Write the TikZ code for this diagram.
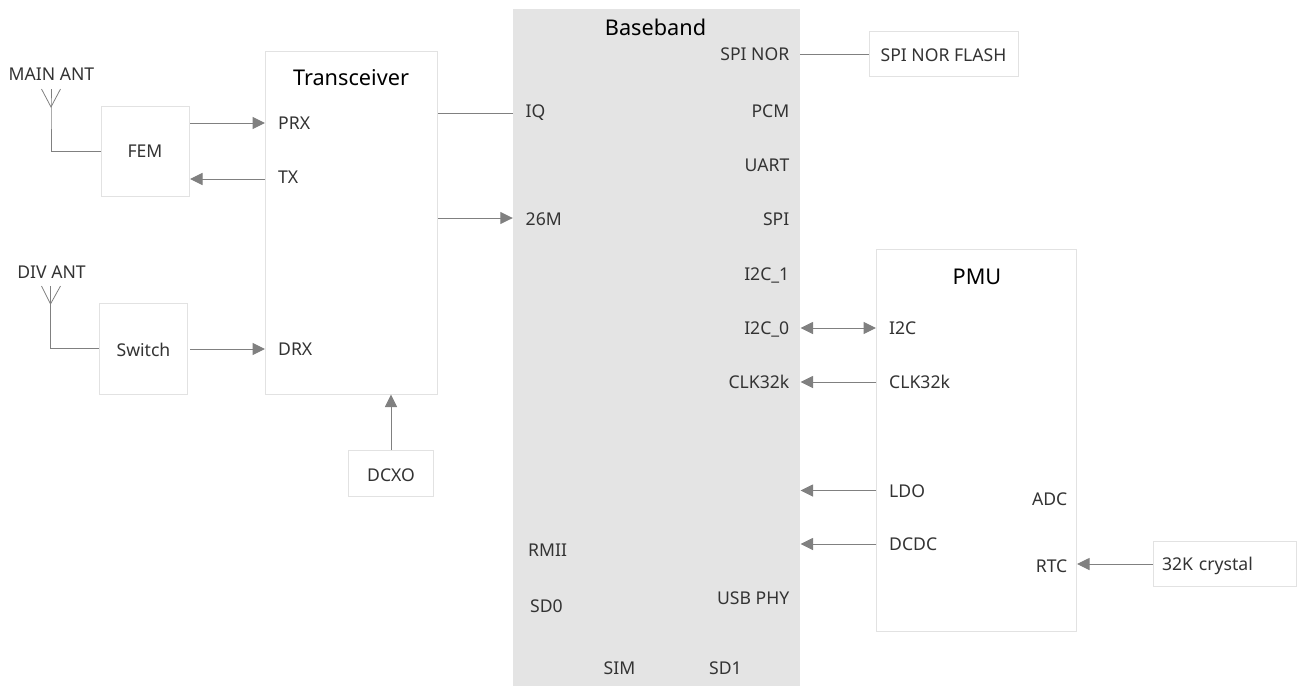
\documentclass[tikz,border=0pt]{standalone}
\usepackage{fontspec}
\setmainfont{Noto Sans}
\usetikzlibrary{arrows.meta}
\definecolor{boxline}{HTML}{E2E2E2}
\definecolor{bbfill}{HTML}{E4E4E4}
\definecolor{wire}{HTML}{808080}
\definecolor{txt}{HTML}{333333}
\tikzset{x=1pt,y=-1pt,
 blk/.style={draw=boxline,fill=white,line width=1pt,inner sep=0pt,font=\fontsize{17.6}{20}\selectfont,text=txt,text height=12.6pt,text depth=0pt},
 lowtext/.style={text height=15.6pt},
 bb/.style={fill=bbfill,inner sep=0pt},
 lbl/.style={font=\fontsize{17.6}{20}\selectfont,text=txt,inner sep=0pt,text height=12.6pt,text depth=0pt},
 lblL/.style={lbl,anchor=west},
 lblR/.style={lbl,anchor=east},
 ttl/.style={font=\fontsize{21.7}{25}\selectfont,text=black,inner sep=0pt,text height=15.5pt,text depth=0pt},
 wirel/.style={draw=wire,line width=1pt},
 arr/.style={wirel,-{Triangle[length=12.5pt,width=12pt]}},
 arrb/.style={wirel,{Triangle[length=12.5pt,width=12pt]}-{Triangle[length=12.5pt,width=12pt]}},
 ant/.style={draw=wire,line width=0.8pt}}
\begin{document}
\begin{tikzpicture}
\useasboundingbox (0,0) rectangle (1298,686);
% blocks
\node[bb,minimum width=287pt,minimum height=677pt] (bb) at (656.5,347.5) {};
\node[blk,minimum width=172pt,minimum height=343pt] (tr) at (351.5,222.5) {};
\node[blk,minimum width=88pt,minimum height=90pt] (fem) at (145,151.5) {FEM};
\node[blk,lowtext,minimum width=88pt,minimum height=91pt] (sw) at (143.5,348.5) {Switch};
\node[blk,lowtext,minimum width=85pt,minimum height=46pt] (dcxo) at (391,473.5) {DCXO};
\node[blk,lowtext,minimum width=149pt,minimum height=45pt] (flash) at (943.5,53.5) {SPI NOR FLASH};
\node[blk,minimum width=200pt,minimum height=382pt] (pmu) at (976.5,440.5) {};
\node[blk,minimum width=143pt,minimum height=45pt,text width=125pt,align=left] (xtal) at (1224.5,564) {32K crystal};
% titles
\node[ttl] (bbt) at (655.5,28) {Baseband};
\node[ttl] (trt) at (351,78) {Transceiver};
\node[ttl] (pmut) at (977,277) {PMU};
% antenna labels
\node[lbl] (mainant) at (51.5,74.5) {MAIN ANT};
\node[lbl] (divant) at (51.5,272) {DIV ANT};
% transceiver pins
\node[lblL] (prx) at (278,123) {PRX};
\node[lblL] (tx) at (278,177) {TX};
\node[lblL] (drx) at (278,349) {DRX};
% baseband left pins
\node[lblL] (iq) at (525.5,111) {IQ};
\node[lblL] (m26) at (525.5,219) {26M};
\node[lblL] (rmii) at (528,550) {RMII};
\node[lblL] (sd0) at (530,606) {SD0};
% baseband right pins
\node[lblR] (spinor) at (789.5,54) {SPI NOR};
\node[lblR] (pcm) at (789.5,111) {PCM};
\node[lblR] (uart) at (789.5,165) {UART};
\node[lblR] (spi) at (789.5,219) {SPI};
\node[lblR] (i2c1) at (789.5,274) {I2C\_1};
\node[lblR] (i2c0) at (789.5,328) {I2C\_0};
\node[lblR] (clkb) at (789.5,382) {CLK32k};
\node[lblR] (usb) at (789.5,598) {USB PHY};
\node[lbl] (sim) at (619.5,668) {SIM};
\node[lbl] (sd1) at (725.5,668) {SD1};
% PMU pins
\node[lblL] (i2c) at (889,328) {I2C};
\node[lblL] (clkp) at (889,382) {CLK32k};
\node[lblL] (ldo) at (889,491) {LDO};
\node[lblL] (dcdc) at (889,544) {DCDC};
\node[lblR] (adc) at (1067.5,499) {ADC};
\node[lblR] (rtc) at (1067.5,566) {RTC};
% wire anchors
\coordinate (a1) at (51,89);
\coordinate (a1l) at (41.5,89);
\coordinate (a1r) at (60.5,89);
\coordinate (a1v) at (51,107);
\coordinate (a2) at (50.5,286);
\coordinate (a2l) at (41.5,286);
\coordinate (a2r) at (60.5,286);
\coordinate (a2v) at (50.5,304);
\coordinate (y1) at (0,123);
\coordinate (y2) at (0,179);
\coordinate (y3) at (0,349);
\coordinate (y4) at (0,113);
\coordinate (y5) at (0,218);
\coordinate (y6) at (0,54);
\coordinate (y7) at (0,328);
\coordinate (y8) at (0,382);
\coordinate (y9) at (0,490.5);
\coordinate (y10) at (0,544);
\coordinate (y11) at (0,564);
\coordinate (bbr) at (800.5,0);
% antennas
\draw[ant] (a1l) -- (a1v) -- (a1r);
\draw[ant] (a2l) -- (a2v) -- (a2r);
\draw[wirel] (a1) -- (a1v) |- (fem.west);
\draw[wirel] (a2) -- (a2v) |- (sw.west);
% connectors
\draw[arr] ([xshift=0.5pt]fem.east |- y1) -- (tr.west |- y1);
\draw[arr] (tr.west |- y2) -- ([xshift=0.5pt]fem.east |- y2);
\draw[arr] ([xshift=2pt]sw.east |- y3) -- (tr.west |- y3);
\draw[wirel] (tr.east |- y4) -- (bb.west |- y4);
\draw[arr] (tr.east |- y5) -- (bb.west |- y5);
\draw[arr] (dcxo.north) -- (dcxo.north |- tr.south);
\draw[wirel] (bb.east |- y6) -- (flash.west |- y6);
\draw[arrb] (bbr |- y7) -- (pmu.west |- y7);
\draw[arr] (pmu.west |- y8) -- (bbr |- y8);
\draw[arr] (pmu.west |- y9) -- (bbr |- y9);
\draw[arr] (pmu.west |- y10) -- (bbr |- y10);
\draw[arr] (xtal.west |- y11) -- (pmu.east |- y11);
\end{tikzpicture}
\end{document}
